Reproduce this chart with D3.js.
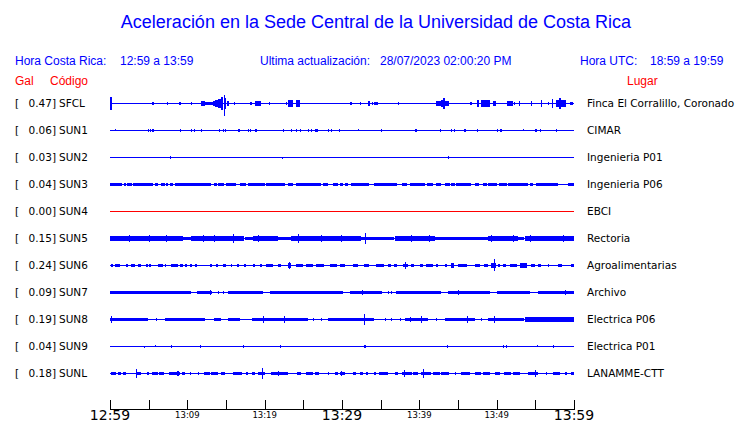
<!DOCTYPE html>
<html><head><meta charset="utf-8">
<script src="https://cdn.jsdelivr.net/npm/d3@7"></script>
<style>body{margin:0;background:#fff}svg{display:block}</style>
</head><body>
<svg id="c" width="740" height="423"></svg>
<script>
// ---------- DATA ----------
const codes  = ["SFCL","SUN1","SUN2","SUN3","SUN4","SUN5","SUN6","SUN7","SUN8","SUN9","SUNL"];
const galPeak = [0.47,0.06,0.03,0.04,0.00,0.15,0.24,0.09,0.19,0.04,0.18];
const places = ["Finca El Corralillo, Coronado","CIMAR","Ingenieria P01","Ingenieria P06","EBCI","Rectoria","Agroalimentarias","Archivo","Electrica P06","Electrica P01","LANAMME-CTT"];
const traceColors = ["blue","blue","blue","blue","red","blue","blue","blue","blue","blue","blue"];
// time axis: minutes after 12:59 (local)
const tickMinutes = [0,5,10,15,20,25,30,35,40,45,50,55,60];
const tickLabels  = ["12:59","","13:09","","13:19","","13:29","","13:39","","13:49","","13:59"];
const majorLabels = ["12:59","13:29","13:59"];

// bursts: [startMin, endMin, amplitudeUp, amplitudeDown(optional)] in relative amplitude units
const sfcl = [[0.0,0.2,4.1],[5.4,5.6,0.75],[7.4,7.4,0.75],[8.9,9.1,1.1],[10.5,10.5,0.75],[11.8,12.3,1.5],[12.3,13.3,1.0],[13.3,13.6,1.7],[13.6,14.0,2.4],[14.0,14.4,3.0],[14.4,14.7,4.4],[14.7,14.8,5.9,8.9],[14.8,15.1,3.5],[15.1,15.4,1.5],[16.0,16.0,0.75],[18.1,18.3,0.75],[18.7,19.5,1.5],[20.5,20.5,0.75],[22.7,22.7,0.75],[23.0,23.7,2.2],[24.1,24.6,2.4],[31.0,31.3,1.0],[32.3,32.4,1.0],[33.4,33.6,1.5],[33.9,33.9,0.75],[34.2,34.7,1.0],[37.2,37.2,0.75],[42.2,42.8,1.5],[42.8,43.0,2.5],[43.0,43.2,3.7],[43.2,43.9,1.5],[46.6,46.9,1.0],[47.5,47.8,2.0],[48.0,49.1,2.4],[49.5,49.9,1.25],[51.3,52.1,1.25],[52.3,52.3,0.75],[52.9,53.0,1.25],[54.5,54.6,1.5],[55.7,55.8,2.0],[56.6,56.6,0.75],[57.2,57.3,3.0],[57.7,58.1,2.4],[58.1,58.3,3.9],[58.3,59.0,2.0],[59.5,59.9,1.0]];
const sun1 = [[0.7,0.7,0.75,0],[4.9,4.9,0.75],[5.2,5.2,0.75],[5.4,5.6,0.75],[9.1,9.1,0.6],[10.5,10.5,0.75],[10.9,10.9,0.75],[11.8,11.8,0.75],[14.1,14.1,0.75],[14.6,14.6,0.75],[14.9,14.9,0.75],[16.5,16.8,1.0],[17.8,17.8,0.75],[18.1,18.1,0.75],[18.7,18.9,1.0],[22.4,22.4,0.6],[23.4,23.4,0.6],[24.1,24.1,0.75],[24.6,24.6,0.75],[25.6,25.6,0.75],[26.0,26.0,0.75],[26.5,26.9,1.1],[28.2,28.2,0.75],[28.6,28.6,0.75],[29.6,29.6,0.75],[32.1,32.1,0.75,0],[35.0,35.0,0.6],[39.4,39.7,1.0],[42.7,42.7,0.75],[44.1,44.1,0.75],[44.5,44.5,0.75],[45.8,46.0,1.0],[47.5,47.5,0.75],[50.1,50.1,0.75],[50.4,50.7,1.0],[53.4,53.4,0.75,0],[55.0,55.2,0.75],[55.6,55.6,0.75],[57.7,57.7,0.75]];
const sun2 = [[7.8,7.8,1.0],[22.2,22.2,0,0.5],[43.7,43.7,1.0]];
const sun3 = [[0.0,1.5,1.0],[1.8,2.0,1.0],[2.2,2.8,1.0],[3.0,5.6,1.0],[5.8,6.2,1.0],[6.6,7.1,1.0],[7.3,7.5,1.0],[7.7,8.1,1.0],[8.4,13.1,1.0],[13.4,13.8,1.0],[14.0,14.8,1.0],[15.0,16.3,1.0],[16.8,17.6,1.0],[17.8,20.0,1.0],[20.2,22.6,1.0],[23.0,23.7,1.0],[24.1,27.3,1.0],[27.5,28.2,1.0],[28.8,29.5,1.0],[29.7,30.1,1.0],[30.4,30.8,1.0],[31.1,33.4,1.0],[34.2,37.2,1.0],[37.7,38.3,1.0],[38.8,40.7,1.0],[41.0,41.8,1.0],[42.2,42.8,1.0],[43.3,43.9,1.0],[44.1,44.6,1.0],[44.8,46.7,1.0],[47.2,47.7,1.0],[48.2,48.7,1.0],[48.9,50.0,1.0],[50.3,51.3,1.0],[51.5,54.1,1.0],[54.3,54.7,1.0],[55.1,57.9,1.0],[59.2,60.0,1.0]];
const sun4 = [];
const sun5 = [[0.0,2.3,1.25],[2.3,5.8,1.5],[5.8,9.4,1.25],[9.4,10.5,0.75],[10.5,17.4,1.5],[17.4,18.5,0.75],[18.5,21.7,1.5],[21.7,23.4,1.0],[23.4,32.5,1.5],[32.5,36.8,1.0],[36.8,42.0,1.5],[42.0,48.9,1.0],[48.9,52.8,1.5],[52.8,53.6,0.75],[53.6,60.0,1.5],[2.5,2.6,2.0],[5.1,5.2,2.4],[7.3,7.4,2.0],[12.0,12.1,2.0],[13.5,13.6,2.0],[15.9,16.0,3.2],[19.1,19.2,2.2],[24.3,24.4,2.7],[27.3,27.4,2.2],[29.9,30.0,2.2],[33.0,33.1,3.5],[38.9,39.0,2.0],[41.3,41.4,2.0],[49.3,49.4,2.2],[52.1,52.2,2.0],[54.3,54.4,2.2],[58.6,58.7,2.0]];
const sun6 = [[0.1,0.3,0.9],[0.6,1.25,0.9],[2.1,2.4,0.9],[2.7,3.2,0.9],[3.6,4.05,0.9],[4.7,4.9,0.9],[5.1,5.3,0.9],[6.2,6.85,0.9],[7.15,7.15,0.9],[7.9,8.8,0.9],[9.0,9.45,0.9],[9.65,9.85,0.9],[10.3,10.5,0.9],[11.0,11.3,0.9],[12.9,13.1,0.9],[13.75,13.95,0.9],[14.6,15.05,0.9],[15.6,15.6,0.9],[16.45,16.7,0.9],[17.3,17.6,0.9],[18.5,18.7,0.9],[19.35,19.55,0.9],[20.2,21.1,1.1],[21.7,22.15,0.9],[23.0,23.45,1.5],[23.2,23.3,2.2],[24.1,25.0,0.9],[25.4,26.25,0.9],[26.7,27.75,0.9],[28.4,29.3,0.9],[29.7,30.35,0.9],[31.4,32.1,0.9],[32.9,33.6,0.9],[34.45,35.5,0.9],[35.95,36.3,0.9],[36.7,37.15,0.9],[37.9,38.5,1.1],[38.2,38.3,2.4],[38.95,39.3,0.9],[40.05,40.5,0.9],[40.9,41.8,0.9],[42.2,42.4,0.9],[43.3,43.5,0.9],[44.1,44.55,1.5],[45.0,46.1,0.9],[47.15,47.8,0.9],[48.35,48.9,0.9],[49.3,49.95,1.25],[49.6,49.7,4.7,3.7],[50.2,50.5,0.9],[50.8,51.25,0.9],[51.7,52.55,0.9],[53.0,53.85,1.25],[54.4,54.9,0.9],[55.35,55.8,0.9],[56.6,56.6,0.9],[57.9,58.45,0.9],[59.65,60.0,0.9]];
const sun7 = [[0.0,10.5,0.9],[11.3,13.3,0.9],[14.0,14.1,0.9],[14.6,14.7,0.9],[15.25,19.8,0.9],[20.65,30.1,0.9],[31.0,35.1,0.9],[36.0,36.1,0.9],[36.4,36.5,0.9],[37.0,42.85,0.9],[43.7,49.1,0.9],[50.0,54.3,0.9],[55.35,60.0,0.9],[12.9,13.0,1.5],[32.6,32.7,1.25],[45.0,45.1,1.5],[58.9,59.0,1.5]];
const sun8 = [[0.0,4.9,1.0],[6.0,6.1,1.0],[7.1,12.25,1.0],[13.5,14.4,1.0],[15.25,16.75,1.0],[18.3,25.6,1.0],[26.25,26.35,1.0],[27.3,27.4,1.0],[28.2,34.2,1.0],[35.5,35.6,1.0],[36.4,36.5,1.0],[37.5,37.6,1.0],[38.1,41.1,1.0],[42.2,42.3,1.0],[43.3,47.15,1.0],[48.0,48.1,1.0],[48.9,53.6,1.0],[53.6,60.0,1.25],[0.1,0.2,2.0],[19.8,19.9,2.2],[22.5,22.6,2.0],[32.8,32.9,3.9],[38.75,38.85,1.7],[40.25,40.35,2.2],[46.2,46.3,2.4],[49.6,49.7,2.2]];
const sun9 = [[4.35,4.35,0,0.6],[5.85,5.85,0.75,0],[7.85,7.85,0.9],[11.7,11.7,0.9],[17.25,17.25,0.9],[22.0,22.0,0.9],[32.9,33.1,0.9],[43.6,43.6,0.9],[50.8,50.8,0.9],[51.25,51.25,0.9],[55.25,55.25,0.75,0],[57.3,57.3,0.9]];
const sunl = [[0.1,0.8,1.0],[1.05,1.4,1.0],[1.7,2.1,1.0],[3.4,4.05,1.0],[4.8,5.1,1.0],[5.45,6.2,1.0],[6.4,7.0,1.0],[7.6,9.0,1.0],[9.3,9.75,1.0],[10.3,10.3,1.0],[11.4,11.4,1.0],[12.15,12.9,1.0],[13.1,13.95,1.0],[14.3,14.8,1.0],[15.9,17.0,1.0],[17.6,17.85,1.0],[18.3,18.7,1.0],[19.1,20.0,1.0],[20.85,23.0,1.0],[24.2,24.75,1.0],[25.4,26.25,1.0],[26.45,27.0,1.0],[28.2,28.2,1.0],[29.05,29.5,1.0],[29.7,30.35,1.0],[31.4,31.85,1.0],[32.3,32.7,1.0],[33.15,33.35,1.0],[34.15,34.45,1.0],[34.75,35.85,1.0],[36.8,37.25,1.0],[37.7,38.95,1.0],[39.2,39.8,1.0],[40.25,41.55,1.0],[41.75,42.6,1.0],[42.85,43.9,1.0],[44.6,44.6,1.0],[45.35,46.5,1.0],[47.15,47.9,1.0],[48.25,49.2,1.0],[49.75,50.4,1.0],[50.95,51.8,1.0],[52.1,52.95,1.0],[54.05,55.35,1.0],[56.4,56.4,1.0],[57.3,58.15,1.0],[58.8,59.0,1.0],[59.65,60.0,1.0],[3.3,3.35,3.2],[8.6,8.8,1.5],[19.7,19.75,3.7],[21.7,21.8,1.5],[29.9,30.0,1.7],[38.0,38.05,2.2],[40.5,40.55,3.0],[54.9,54.95,2.0]];
const traces = [sfcl,sun1,sun2,sun3,sun4,sun5,sun6,sun7,sun8,sun9,sunl];

// ---------- LAYOUT ----------
const svg = d3.select("#c");
const W = 740, H = 423;
const x = d3.scaleLinear().domain([0,60]).range([110,574]);
const row = d3.scaleBand().domain(codes).range([89.5,386.5]);
const amp = d3.scaleLinear().domain([0,10]).range([0,13.5]);
const BLUE = "#0000ff", RED = "#ff0000";
const sans = "'Liberation Sans', Arial, sans-serif";
const dv = "'DejaVu Sans', sans-serif";

svg.append("text").attr("x",376).attr("y",28).attr("text-anchor","middle")
  .attr("font-family",sans).attr("font-size",18).attr("fill",BLUE)
  .text("Aceleración en la Sede Central de la Universidad de Costa Rica");

const hdr = [["Hora Costa Rica:",15],["12:59 a 13:59",120],["Ultima actualización:",260],["28/07/2023 02:00:20 PM",380],["Hora UTC:",580],["18:59 a 19:59",650]];
svg.selectAll("text.hdr").data(hdr).join("text").attr("class","hdr")
  .attr("x",d=>d[1]).attr("y",65).attr("font-family",sans).attr("font-size",12).attr("fill",BLUE).text(d=>d[0]);
const sub = [["Gal",15],["Código",50],["Lugar",627]];
svg.selectAll("text.sub").data(sub).join("text").attr("class","sub")
  .attr("x",d=>d[1]).attr("y",85).attr("font-family",sans).attr("font-size",12).attr("fill",RED).text(d=>d[0]);

const g = svg.append("g");
codes.forEach((c,i)=>{
  const cy = Math.round(row(c) + row.bandwidth()/2);
  const col = traceColors[i];
  const lab = g.append("g").attr("font-family",dv).attr("font-size",10.5).attr("fill","#000");
  lab.append("text").attr("x",15).attr("y",cy+4).text("[");
  lab.append("text").attr("x",56).attr("y",cy+4).attr("text-anchor","end").text(galPeak[i].toFixed(2)+"]");
  lab.append("text").attr("x",59).attr("y",cy+4).text(c);
  lab.append("text").attr("x",587).attr("y",cy+4).text(places[i]);
  g.append("line").attr("x1",x(0)).attr("x2",x(60)).attr("y1",cy+0.5).attr("y2",cy+0.5)
    .attr("stroke",col).attr("stroke-width",1).attr("shape-rendering","crispEdges");
  g.append("g").selectAll("rect").data(traces[i]).join("rect")
    .attr("x",d=>Math.round(x(d[0])))
    .attr("width",d=>Math.max(1,Math.round(x(d[1])-x(d[0]))))
    .attr("y",d=>cy - Math.round(amp(d[2])))
    .attr("height",d=>Math.round(amp(d[2])) + Math.round(amp(d.length>3?d[3]:d[2])) + 1)
    .attr("fill",col).attr("shape-rendering","crispEdges");
});

// axis
const ax = svg.append("g").attr("transform","translate(0,409)");
ax.append("line").attr("x1",x(0)).attr("x2",x(60)+1).attr("y1",0.5).attr("y2",0.5).attr("stroke","#000").attr("shape-rendering","crispEdges");
ax.selectAll("line.t").data(tickMinutes).join("line").attr("class","t")
  .attr("x1",d=>Math.round(x(d))+0.5).attr("x2",d=>Math.round(x(d))+0.5).attr("y1",-9).attr("y2",0)
  .attr("stroke","#000").attr("shape-rendering","crispEdges");
ax.selectAll("text").data(tickMinutes.map((m,i)=>[m,tickLabels[i]]).filter(d=>d[1]!=="")).join("text")
  .attr("x",d=>x(d[0])).attr("y",d=>majorLabels.includes(d[1])?11:9)
  .attr("text-anchor","middle").attr("font-family",dv)
  .attr("font-size",d=>majorLabels.includes(d[1])?14:8.5).attr("fill","#000").text(d=>d[1]);
</script>
</body></html>
